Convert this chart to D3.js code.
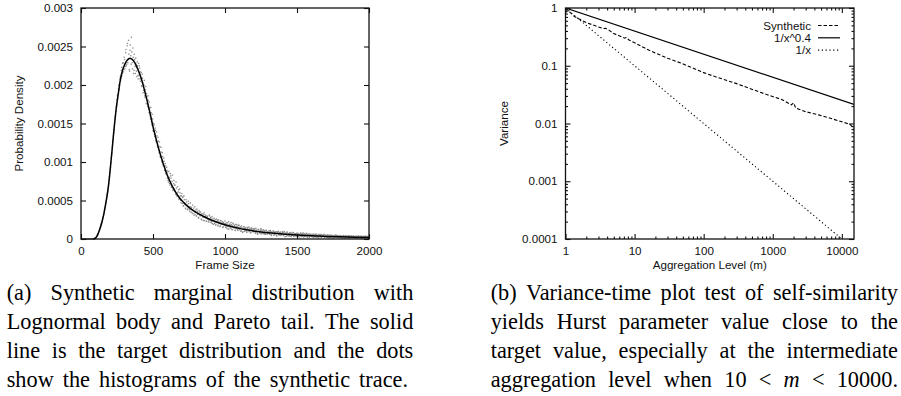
<!DOCTYPE html>
<html>
<head>
<meta charset="utf-8">
<script src="https://cdn.jsdelivr.net/npm/d3@7"></script>
<style>
  html, body { margin: 0; padding: 0; background: #fff; }
  svg { display: block; }
  .ax text { font-family: "Liberation Sans", Arial, Helvetica, sans-serif; font-size: 11.6px; fill: #111; }
  .cap { font-family: "Liberation Serif", "Times New Roman", Times, serif; font-size: 22.3px; fill: #000; }
</style>
</head>
<body>
<svg id="chart" width="901" height="396"></svg>
<script>
// ---------------- DATA: panel (a) ----------------
const frameTicks = [0, 500, 1000, 1500, 2000];
const frameTickLabels = ["0", "500", "1000", "1500", "2000"];
const densityTicks = [0, 0.0005, 0.001, 0.0015, 0.002, 0.0025, 0.003];
const densityTickLabels = ["0", "0.0005", "0.001", "0.0015", "0.002", "0.0025", "0.003"];

// target distribution (solid line), density in units of 1e-6
const targetFrame = [85, 90, 100, 110, 120, 130, 140, 150, 160, 170, 180, 190, 200, 210, 220, 230, 240, 250, 260, 270,
  280, 290, 300, 310, 320, 330, 340, 350, 360, 370, 380, 390, 400, 410, 420, 430, 440, 450, 460, 470,
  480, 490, 500, 510, 520, 530, 540, 550, 560, 570, 580, 590, 600, 620, 640, 660, 680, 700, 725, 750,
  775, 800, 850, 900, 950, 1000, 1050, 1100, 1150, 1200, 1250, 1300, 1400, 1500, 1600, 1700, 1800, 1900, 2000];
const targetDensity = [0, 3, 12, 35, 75, 125, 185, 255, 340, 440, 550, 680, 850, 1040, 1240, 1440, 1620, 1770, 1900, 2030,
  2130, 2200, 2250, 2290, 2320, 2340, 2347, 2340, 2325, 2300, 2265, 2225, 2180, 2130, 2075, 2010, 1940, 1865, 1790, 1710,
  1630, 1545, 1460, 1385, 1310, 1240, 1170, 1105, 1045, 985, 930, 875, 825, 740, 665, 600, 545, 500, 450, 410,
  375, 345, 295, 250, 215, 185, 160, 138, 120, 105, 92, 81, 64, 51, 41, 34, 28, 24, 21];

// histogram of the synthetic trace (dots), density in units of 1e-6
// first set: frame sizes 5, 10, ..., 2000
const histStart = 5, histStep = 5;
const histDensity = [
  0, 0, 0, 0, 0, 0, 0, 0, 0, 0, 0, 0, 0, 0, 0, 0, 0, 2, 8, 14,
  22, 38, 52, 70, 102, 128, 150, 192, 215, 262, 290, 330, 395, 452, 490, 560, 610, 672, 770, 862,
  930, 1050, 1120, 1262, 1330, 1420, 1560, 1600, 1720, 1810, 1830, 1950, 1940, 2080, 2060, 2190, 2120, 2280, 2170, 2360,
  2210, 2420, 2250, 2510, 2290, 2580, 2200, 2450, 2380, 2620, 2290, 2480, 2150, 2400, 2240, 2350, 2180, 2300, 2120, 2280,
  2250, 2080, 2170, 1990, 2140, 2030, 1930, 2060, 1840, 1980, 1890, 1750, 1860, 1690, 1780, 1600, 1710, 1520, 1620, 1410,
  1500, 1360, 1440, 1280, 1390, 1210, 1320, 1150, 1260, 1070, 1190, 1010, 1120, 960, 1050, 890, 980, 850, 930, 790,
  760, 880, 720, 850, 790, 690, 830, 650, 760, 700, 620, 740, 560, 680, 610, 520, 650, 560, 470, 590,
  540, 430, 560, 470, 400, 510, 450, 380, 490, 420, 360, 470, 400, 340, 440, 370, 310, 420, 350, 300,
  390, 320, 280, 370, 310, 350, 260, 330, 290, 240, 340, 280, 310, 230, 300, 260, 220, 310, 250, 280,
  210, 290, 240, 190, 270, 220, 180, 260, 230, 170, 250, 210, 160, 240, 200, 230, 150, 215, 185, 235,
  150, 210, 170, 130, 225, 160, 195, 140, 185, 120, 205, 150, 170, 115, 190, 140, 165, 110, 180, 130,
  150, 100, 170, 125, 95, 160, 135, 110, 150, 90, 140, 120, 155, 100, 130, 85, 145, 115, 95, 135,
  120, 80, 140, 95, 70, 125, 100, 85, 130, 65, 110, 90, 120, 70, 105, 60, 115, 85, 95, 70,
  100, 65, 110, 55, 90, 75, 105, 50, 85, 70, 95, 45, 80, 100, 60, 75, 90, 50, 70, 85,
  45, 90, 60, 75, 35, 85, 55, 70, 40, 80, 65, 30, 75, 50, 85, 40, 60, 70, 35, 65,
  70, 35, 60, 45, 80, 30, 55, 65, 25, 70, 40, 50, 75, 30, 60, 45, 20, 65, 50, 35,
  55, 25, 65, 40, 30, 60, 20, 50, 45, 15, 55, 35, 60, 25, 45, 30, 55, 20, 40, 50,
  45, 20, 55, 30, 15, 50, 35, 25, 45, 10, 40, 30, 50, 20, 35, 45, 15, 40, 25, 30,
  40, 15, 35, 25, 45, 10, 30, 40, 20, 35, 10, 30, 40, 15, 25, 35, 20, 40, 10, 30,
  35, 15, 30, 10, 40, 20, 25, 35, 5, 30, 20, 35, 10, 25, 30, 15, 35, 20, 10, 25
];
// second set: frame sizes 2.5, 7.5, ..., 1997.5
const hist2Start = 2.5, hist2Step = 5;
const histDensity2 = [
  0, 0, 0, 0, 0, 0, 0, 0, 0, 0, 0, 0, 0, 0, 0, 0, 0, 1, 5, 11,
  17, 28, 46, 62, 88, 112, 140, 170, 205, 238, 278, 312, 372, 418, 468, 530, 590, 640, 720, 805,
  900, 990, 1090, 1190, 1290, 1380, 1490, 1590, 1660, 1750, 1860, 1880, 2000, 1990, 2110, 2090, 2230, 2150, 2290, 2200,
  2330, 2240, 2460, 2270, 2540, 2330, 2400, 2180, 2520, 2270, 2430, 2210, 2360, 2190, 2330, 2150, 2270, 2110, 2250, 2080,
  2130, 2220, 2050, 2160, 1980, 2090, 1900, 2000, 1860, 1940, 1760, 1850, 1720, 1800, 1640, 1700, 1560, 1640, 1480, 1560,
  1400, 1480, 1330, 1410, 1260, 1340, 1190, 1270, 1120, 1200, 1060, 1130, 1000, 1070, 950, 1010, 890, 950, 850, 890,
  870, 740, 800, 700, 820, 670, 750, 630, 720, 650, 700, 580, 660, 600, 560, 640, 520, 600, 500, 560,
  460, 550, 430, 510, 460, 390, 480, 430, 400, 460, 380, 420, 350, 410, 380, 330, 400, 350, 320, 380,
  300, 360, 330, 270, 350, 300, 320, 250, 310, 280, 320, 240, 290, 270, 230, 290, 260, 240, 300, 220,
  270, 230, 200, 260, 240, 200, 250, 190, 220, 245, 180, 230, 200, 170, 220, 190, 210, 160, 200, 175,
  200, 160, 140, 210, 175, 130, 190, 155, 215, 125, 170, 195, 145, 180, 110, 160, 185, 125, 150, 175,
  120, 160, 105, 145, 85, 130, 155, 100, 140, 115, 90, 150, 125, 95, 140, 80, 120, 135, 100, 125,
  95, 135, 75, 115, 90, 60, 120, 100, 75, 110, 130, 70, 95, 115, 65, 100, 80, 110, 60, 90,
  75, 110, 60, 95, 45, 85, 70, 100, 55, 90, 65, 40, 95, 75, 55, 85, 45, 80, 60, 95,
  80, 50, 95, 30, 70, 55, 90, 40, 65, 75, 35, 85, 45, 60, 80, 30, 70, 55, 40, 75,
  40, 75, 55, 25, 65, 45, 70, 35, 80, 50, 30, 60, 40, 70, 25, 55, 65, 35, 50, 60,
  30, 60, 45, 20, 55, 35, 65, 40, 25, 50, 60, 30, 45, 20, 55, 40, 35, 60, 25, 45,
  40, 25, 50, 15, 45, 35, 20, 50, 30, 40, 15, 45, 25, 35, 50, 20, 40, 30, 15, 45,
  20, 40, 30, 10, 45, 25, 35, 15, 40, 20, 30, 45, 10, 35, 25, 40, 15, 30, 35, 20,
  30, 10, 35, 20, 25, 40, 15, 30, 20, 35, 5, 25, 30, 15, 40, 20, 25, 10, 35, 15
];

// ---------------- DATA: panel (b) ----------------
const aggTicks = [1, 10, 100, 1000, 10000];
const aggTickLabels = ["1", "10", "100", "1000", "10000"];
const varTicks = [0.0001, 0.001, 0.01, 0.1, 1];
const varTickLabels = ["0.0001", "0.001", "0.01", "0.1", "1"];

const synthM = [1, 1.35, 2, 3, 3.5, 3.8, 4.3, 5, 6, 7.2, 7.6, 8.3, 10, 16, 30, 48, 100, 145, 300, 450,
  800, 1350, 1860, 2000, 2150, 2400, 3000, 4600, 7000, 10000, 12000, 13000, 15000];
const synthVar = [1, 0.71, 0.56, 0.47, 0.44, 0.445, 0.41, 0.36, 0.33, 0.30, 0.31, 0.28, 0.25, 0.187, 0.135, 0.11, 0.076, 0.065, 0.049, 0.041,
  0.032, 0.026, 0.021, 0.0228, 0.0185, 0.0176, 0.016, 0.0141, 0.0122, 0.0107, 0.0100, 0.0098, 0.0082];
const powerM = [1, 15000];
const powerVar = [1, 0.0214];
const inverseM = [1, 10000];
const inverseVar = [1, 0.0001];
const legendLabels = ["Synthetic", "1/x^0.4", "1/x"];

const captionA = [
  "(a) Synthetic marginal distribution with",
  "Lognormal body and Pareto tail. The solid",
  "line is the target distribution and the dots",
  "show the histograms of the synthetic trace."
];
const captionB = [
  "(b) Variance-time plot test of self-similarity",
  "yields Hurst parameter value close to the",
  "target value, especially at the intermediate",
  "aggregation level when 10 < m < 10000."
];

// ---------------- DRAW ----------------
const svg = d3.select("#chart");
svg.append("rect").attr("width", 901).attr("height", 396).attr("fill", "#fff");

function styleAxis(g) {
  g.select(".domain").remove();
  g.selectAll(".tick line").attr("stroke", "#111").attr("stroke-width", 1.1);
  g.attr("class", "ax");
  g.selectAll("text").attr("fill", "#111");
}

// ===== Panel (a)
const L = { left: 81, right: 369, top: 8, bottom: 239 };
const xA = d3.scaleLinear().domain([0, 2000]).range([L.left, L.right]);
const yA = d3.scaleLinear().domain([0, 0.003]).range([L.bottom, L.top]);
const gA = svg.append("g");

// dots
const dotsA = gA.append("g").attr("fill", "#8a8a8a");
dotsA.selectAll("rect.h1").data(histDensity).join("rect").attr("class", "h1")
  .attr("x", (d, i) => xA(histStart + i * histStep) - 0.65)
  .attr("y", d => yA(d * 1e-6) - 0.65)
  .attr("width", 1.3).attr("height", 1.3);
dotsA.selectAll("rect.h2").data(histDensity2).join("rect").attr("class", "h2")
  .attr("x", (d, i) => xA(hist2Start + i * hist2Step) - 0.65)
  .attr("y", d => yA(d * 1e-6) - 0.65)
  .attr("width", 1.3).attr("height", 1.3);

// target curve
const tPts = targetFrame.map((f, i) => [f, targetDensity[i] * 1e-6]);
gA.append("path").datum(tPts)
  .attr("fill", "none").attr("stroke", "#000").attr("stroke-width", 1.5)
  .attr("d", d3.line().x(d => xA(d[0])).y(d => yA(d[1])).curve(d3.curveMonotoneX));

// axes
gA.append("g").attr("transform", `translate(0,${L.bottom})`)
  .call(d3.axisBottom(xA).tickValues(frameTicks).tickFormat((d, i) => frameTickLabels[i]).tickSize(-5).tickPadding(8))
  .call(styleAxis);
gA.append("g").attr("transform", `translate(0,${L.top})`)
  .call(d3.axisTop(xA).tickValues(frameTicks).tickFormat("").tickSize(-5))
  .call(styleAxis);
gA.append("g").attr("transform", `translate(${L.left},0)`)
  .call(d3.axisLeft(yA).tickValues(densityTicks).tickFormat((d, i) => densityTickLabels[i]).tickSize(-5).tickPadding(8))
  .call(styleAxis);
gA.append("g").attr("transform", `translate(${L.right},0)`)
  .call(d3.axisRight(yA).tickValues(densityTicks).tickFormat("").tickSize(-5))
  .call(styleAxis);
gA.append("rect").attr("x", L.left).attr("y", L.top).attr("width", L.right - L.left).attr("height", L.bottom - L.top)
  .attr("fill", "none").attr("stroke", "#111").attr("stroke-width", 1.3);

const axLabA = gA.append("g").attr("class", "ax");
axLabA.append("text").attr("x", (L.left + L.right) / 2).attr("y", 268.5).attr("text-anchor", "middle").text("Frame Size");
axLabA.append("text").attr("transform", `translate(22.5,${(L.top + L.bottom) / 2}) rotate(-90)`)
  .attr("text-anchor", "middle").text("Probability Density");

// ===== Panel (b)
const R = { left: 565.5, right: 854, top: 8, bottom: 239 };
const xB = d3.scaleLog().domain([1, 15000]).range([R.left, R.right]);
const yB = d3.scaleLog().domain([0.0001, 1]).range([R.bottom, R.top]);
const gB = svg.append("g");

const minorX = [], minorY = [];
[1, 10, 100, 1000, 10000].forEach(p => { for (let k = 2; k <= 9; k++) if (k * p < 15000) minorX.push(k * p); });
[0.0001, 0.001, 0.01, 0.1].forEach(p => { for (let k = 2; k <= 9; k++) minorY.push(k * p); });

gB.append("defs").append("clipPath").attr("id", "clipB").append("rect")
  .attr("x", R.left).attr("y", R.top).attr("width", R.right - R.left).attr("height", R.bottom - R.top);

const lineB = d3.line().x(d => xB(d[0])).y(d => yB(d[1]));
const plotB = gB.append("g").attr("clip-path", "url(#clipB)");
plotB.append("path").datum(powerM.map((m, i) => [m, powerVar[i]]))
  .attr("fill", "none").attr("stroke", "#000").attr("stroke-width", 1.2).attr("d", lineB);
plotB.append("path").datum(inverseM.map((m, i) => [m, inverseVar[i]]))
  .attr("fill", "none").attr("stroke", "#000").attr("stroke-width", 1.1).attr("stroke-dasharray", "1.2,2.6").attr("d", lineB);
plotB.append("path").datum(synthM.map((m, i) => [m, synthVar[i]]))
  .attr("fill", "none").attr("stroke", "#000").attr("stroke-width", 1.1).attr("stroke-dasharray", "3.5,2").attr("d", lineB);

// axes (major + minor, mirrored)
const addAx = (axis, tr) => gB.append("g").attr("transform", tr).call(axis).call(styleAxis);
addAx(d3.axisBottom(xB).tickValues(aggTicks).tickFormat((d, i) => aggTickLabels[i]).tickSize(-5).tickPadding(8), `translate(0,${R.bottom})`);
addAx(d3.axisBottom(xB).tickValues(minorX).tickFormat("").tickSize(-2.5), `translate(0,${R.bottom})`);
addAx(d3.axisTop(xB).tickValues(aggTicks).tickFormat("").tickSize(-5), `translate(0,${R.top})`);
addAx(d3.axisTop(xB).tickValues(minorX).tickFormat("").tickSize(-2.5), `translate(0,${R.top})`);
addAx(d3.axisLeft(yB).tickValues(varTicks).tickFormat((d, i) => varTickLabels[i]).tickSize(-5).tickPadding(8), `translate(${R.left},0)`);
addAx(d3.axisLeft(yB).tickValues(minorY).tickFormat("").tickSize(-2.5), `translate(${R.left},0)`);
addAx(d3.axisRight(yB).tickValues(varTicks).tickFormat("").tickSize(-5), `translate(${R.right},0)`);
addAx(d3.axisRight(yB).tickValues(minorY).tickFormat("").tickSize(-2.5), `translate(${R.right},0)`);
gB.append("rect").attr("x", R.left).attr("y", R.top).attr("width", R.right - R.left).attr("height", R.bottom - R.top)
  .attr("fill", "none").attr("stroke", "#111").attr("stroke-width", 1.3);

const axLabB = gB.append("g").attr("class", "ax");
axLabB.append("text").attr("x", (R.left + R.right) / 2).attr("y", 268.5).attr("text-anchor", "middle").text("Aggregation Level (m)");
axLabB.append("text").attr("transform", `translate(507.5,${(R.top + R.bottom) / 2}) rotate(-90)`)
  .attr("text-anchor", "middle").text("Variance");

// legend
const legStyles = [
  { dash: "3.5,2", w: 1.1 },
  { dash: null, w: 1.2 },
  { dash: "1.2,2.6", w: 1.1 }
];
const leg = gB.append("g").attr("class", "ax");
legendLabels.forEach((lab, i) => {
  const y = 25.5 + i * 12.3;
  leg.append("text").attr("x", 811).attr("y", y).attr("dy", "0.35em").attr("text-anchor", "end").text(lab);
  leg.append("line").attr("x1", 818).attr("x2", 840).attr("y1", y).attr("y2", y)
    .attr("stroke", "#000").attr("stroke-width", legStyles[i].w).attr("stroke-dasharray", legStyles[i].dash);
});

// ===== Captions (justified)
function drawCaption(lines, x0, widths, baselines) {
  const g = svg.append("g").attr("class", "cap");
  lines.forEach((line, li) => {
    const words = line.split(" ");
    const nodes = words.map(w => {
      const t = g.append("text").attr("y", baselines[li]);
      if (w === "m") t.style("font-style", "italic");
      return t.text(w);
    });
    const ws = nodes.map(n => n.node().getComputedTextLength());
    const gap = (widths[li] - d3.sum(ws)) / (words.length - 1);
    let x = x0;
    nodes.forEach((n, i) => { n.attr("x", x); x += ws[i] + gap; });
  });
}
const capBaselines = [299.5, 328.5, 357.5, 386.5];
drawCaption(captionA, 6.7, [406.6, 406.6, 406.6, 401.3], capBaselines);
drawCaption(captionB, 490.7, [407.3, 407.3, 407.3, 407.3], capBaselines);
</script>
</body>
</html>
